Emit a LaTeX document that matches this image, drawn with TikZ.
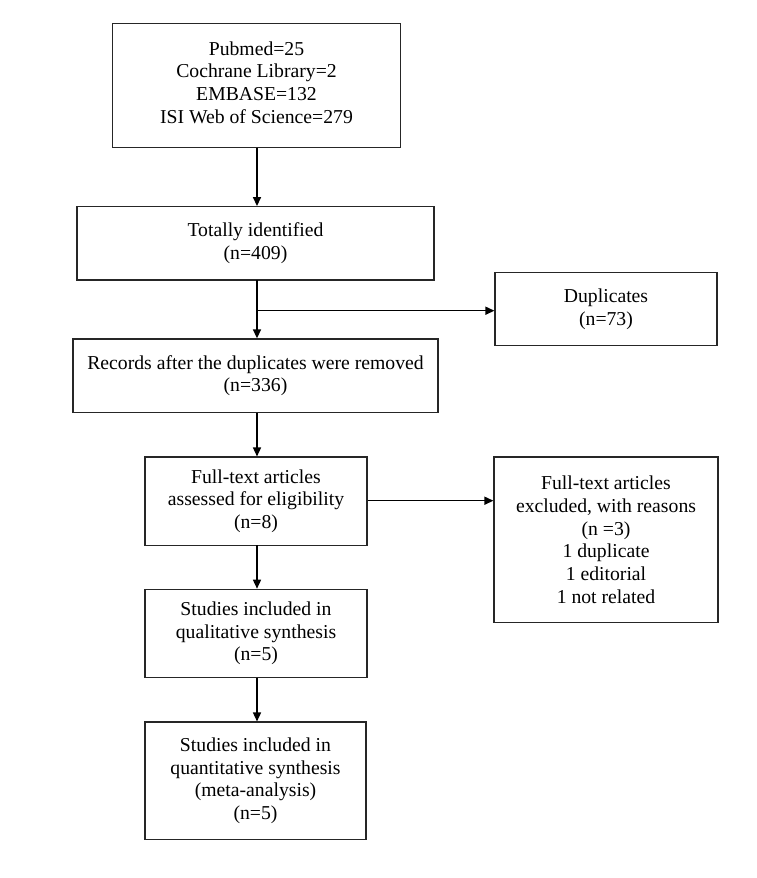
\documentclass[tikz,border=0pt]{standalone}
\usepackage{fontspec}
\setmainfont{Liberation Serif}
\usetikzlibrary{arrows.meta}
\begin{document}
\begin{tikzpicture}[x=1pt,y=-1pt,
  box/.style={draw=black!85, line width=1.2pt, align=center, inner sep=0pt,
    font=\fontsize{19.7pt}{22.7pt}\selectfont, anchor=center},
  arr/.style={line width=1.5pt, draw=black, -{Triangle[length=9pt,width=8pt]}}]
\useasboundingbox (0,0) rectangle (756,878);
\fill[white] (0,0) rectangle (756,878);
\node[box, minimum width=288pt, minimum height=124pt] (b1) at (256.5,85.7) {};
\node[box, draw=none] (b1t) at (256.5,82.5)
  {Pubmed=25\\Cochrane Library=2\\EMBASE=132\\ISI Web of Science=279};
\node[box, minimum width=357pt, minimum height=73.3pt] (b2) at (255.5,243.3)
  {Totally identified\\(n=409)};
\node[box, minimum width=222pt, minimum height=73pt] (dup) at (606,309.2)
  {Duplicates\\(n=73)};
\node[box, minimum width=365pt, minimum height=73.7pt] (b3) at (255.5,375.8)
  {Records after the duplicates were removed\\(n=336)};
\node[box, minimum width=222pt, minimum height=88.3pt] (b4) at (256,501.2)
  {Full-text articles\\assessed for eligibility\\(n=8)};
\node[box, minimum width=224pt, minimum height=165.3pt] (ex) at (606,539.7)
  {Full-text articles\\excluded, with reasons\\(n =3)\\1 duplicate\\1 editorial\\1 not related};
\node[box, minimum width=222pt, minimum height=88.4pt] (b5) at (256,633.5)
  {Studies included in\\qualitative synthesis\\(n=5)};
\node[box, minimum width=221pt, minimum height=117.3pt] (b6) at (255.5,780.7)
  {Studies included in\\quantitative synthesis\\(meta-analysis)\\(n=5)};
\coordinate (c1) at (257,147.7);
\coordinate (c2) at (257,280);
\coordinate (c3) at (257,412.7);
\coordinate (c4) at (257,545.3);
\coordinate (c5) at (257,677.7);
\coordinate (s) at (257,310.7);
\coordinate (h) at (0,500.7);
\draw[arr] (c1) -- (c1 |- b2.north);
\draw[arr] (c2) -- (c2 |- b3.north);
\draw[arr] (s) -- (s -| dup.west);
\draw[arr] (c3) -- (c3 |- b4.north);
\draw[arr] (b4.east |- h) -- (ex.west |- h);
\draw[arr] (c4) -- (c4 |- b5.north);
\draw[arr] (c5) -- (c5 |- b6.north);
\end{tikzpicture}
\end{document}
